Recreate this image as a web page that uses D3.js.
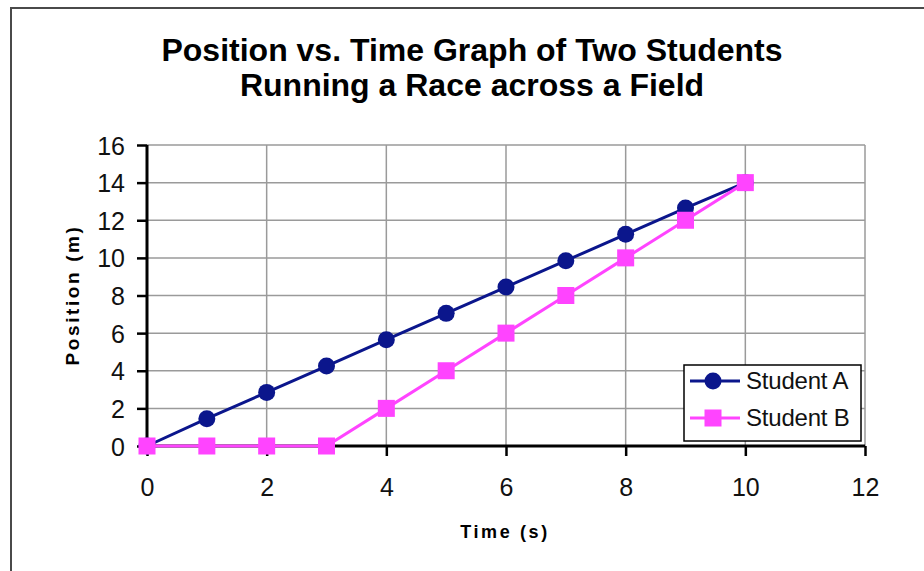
<!DOCTYPE html>
<html><head><meta charset="utf-8">
<script src="https://cdn.jsdelivr.net/npm/d3@7"></script>
<style>body{margin:0;background:#fff}svg{display:block}text{font-family:"Liberation Sans",Arial,sans-serif}</style>
</head><body>
<svg id="c" width="924" height="571"></svg>
<script>
const titleLines = ["Position vs. Time Graph of Two Students", "Running a Race across a Field"];
const xLabel = "Time (s)";
const yLabel = "Position (m)";
const times = [0,1,2,3,4,5,6,7,8,9,10];
const studentA = [0,1.45,2.85,4.25,5.65,7.05,8.45,9.85,11.25,12.65,14];
const studentB = [0,0,0,0,2,4,6,8,10,12,14];
const seriesNames = ["Student A","Student B"];
const xTicks = [0,2,4,6,8,10,12];
const yTicks = [0,2,4,6,8,10,12,14,16];

const svg = d3.select("#c");
svg.append("rect").attr("x",11).attr("y",8).attr("width",940).attr("height",600)
  .attr("fill","#fff").attr("stroke","#4a4a4a").attr("stroke-width",2);

const x = d3.scaleLinear().domain([0,12]).range([147,865]);
const y = d3.scaleLinear().domain([0,16]).range([446,145]);

// title
svg.append("g").selectAll("text").data(titleLines).join("text")
  .attr("x",472).attr("y",(d,i)=>61+i*35).attr("text-anchor","middle")
  .attr("font-size",32).attr("font-weight","bold").attr("fill","#000")
  .attr("letter-spacing",0).text(d=>d);

// grid
const g = svg.append("g");
g.selectAll("line.gx").data(xTicks.filter(t=>t>0)).join("line")
  .attr("x1",d=>x(d)).attr("x2",d=>x(d)).attr("y1",y(16)).attr("y2",y(0))
  .attr("stroke","#9a9a9a").attr("stroke-width",1.5);
g.selectAll("line.gy").data(yTicks.filter(t=>t>0)).join("line")
  .attr("x1",x(0)).attr("x2",x(12)).attr("y1",d=>y(d)).attr("y2",d=>y(d))
  .attr("stroke","#9a9a9a").attr("stroke-width",1.5);

// axes
const xAxis = d3.axisBottom(x).tickValues(xTicks).tickSize(10).tickPadding(22).tickFormat(d3.format("d"));
const yAxis = d3.axisLeft(y).tickValues(yTicks).tickSize(10).tickPadding(12).tickFormat(d3.format("d"));
const gx = svg.append("g").attr("transform",`translate(0,${y(0)})`).call(xAxis);
const gy = svg.append("g").attr("transform",`translate(${x(0)},0)`).call(yAxis);
[gx,gy].forEach(a=>{
  a.attr("font-size",null).attr("font-family",null);
  a.select(".domain").attr("stroke","#000").attr("stroke-width",3);
  a.selectAll(".tick line").attr("stroke","#000").attr("stroke-width",2.5);
  a.selectAll(".tick text").attr("font-size",25).attr("fill","#111");
});
gx.select(".domain").attr("d",`M${x(0)},0H${x(12)}`);
gy.select(".domain").attr("d",`M0,${y(0)}V${y(16)}`);
gx.selectAll(".tick text").attr("dy","0.71em");
gy.selectAll(".tick text").attr("dy","0.36em");

// axis titles
svg.append("text").attr("x",505).attr("y",538).attr("text-anchor","middle")
  .attr("font-size",18).attr("font-weight","bold").attr("letter-spacing",2.6).text(xLabel);
svg.append("text").attr("transform","translate(79,295) rotate(-90)").attr("text-anchor","middle")
  .attr("font-size",19).attr("font-weight","bold").attr("letter-spacing",2.6).text(yLabel);

const colors = ["#0b168c","#ff44ff"];
const line = d3.line().x((d,i)=>x(times[i])).y(d=>y(d));

// Student A
svg.append("path").datum(studentA).attr("d",line).attr("fill","none")
  .attr("stroke",colors[0]).attr("stroke-width",3);
svg.append("g").selectAll("circle").data(studentA).join("circle")
  .attr("cx",(d,i)=>x(times[i])).attr("cy",d=>y(d)).attr("r",8.5).attr("fill",colors[0]);
// Student B
svg.append("path").datum(studentB).attr("d",line).attr("fill","none")
  .attr("stroke",colors[1]).attr("stroke-width",3);
const sq = 17;
svg.append("g").selectAll("rect").data(studentB).join("rect")
  .attr("x",(d,i)=>x(times[i])-sq/2).attr("y",d=>y(d)-sq/2).attr("width",sq).attr("height",sq)
  .attr("fill",colors[1]);

// legend
const lg = svg.append("g");
lg.append("rect").attr("x",684).attr("y",365).attr("width",177).attr("height",76)
  .attr("fill","#fff").attr("stroke","#000").attr("stroke-width",1.5);
seriesNames.forEach((n,i)=>{
  const cy = 381 + i*37;
  lg.append("line").attr("x1",690).attr("x2",740).attr("y1",cy).attr("y2",cy)
    .attr("stroke",colors[i]).attr("stroke-width",3);
  if(i===0) lg.append("circle").attr("cx",713).attr("cy",cy).attr("r",8.5).attr("fill",colors[i]);
  else lg.append("rect").attr("x",713-sq/2).attr("y",cy-sq/2).attr("width",sq).attr("height",sq).attr("fill",colors[i]);
  lg.append("text").attr("x",746).attr("y",cy+8).attr("font-size",24).attr("fill","#111").attr("letter-spacing",-0.2).text(n);
});
</script>
</body></html>
